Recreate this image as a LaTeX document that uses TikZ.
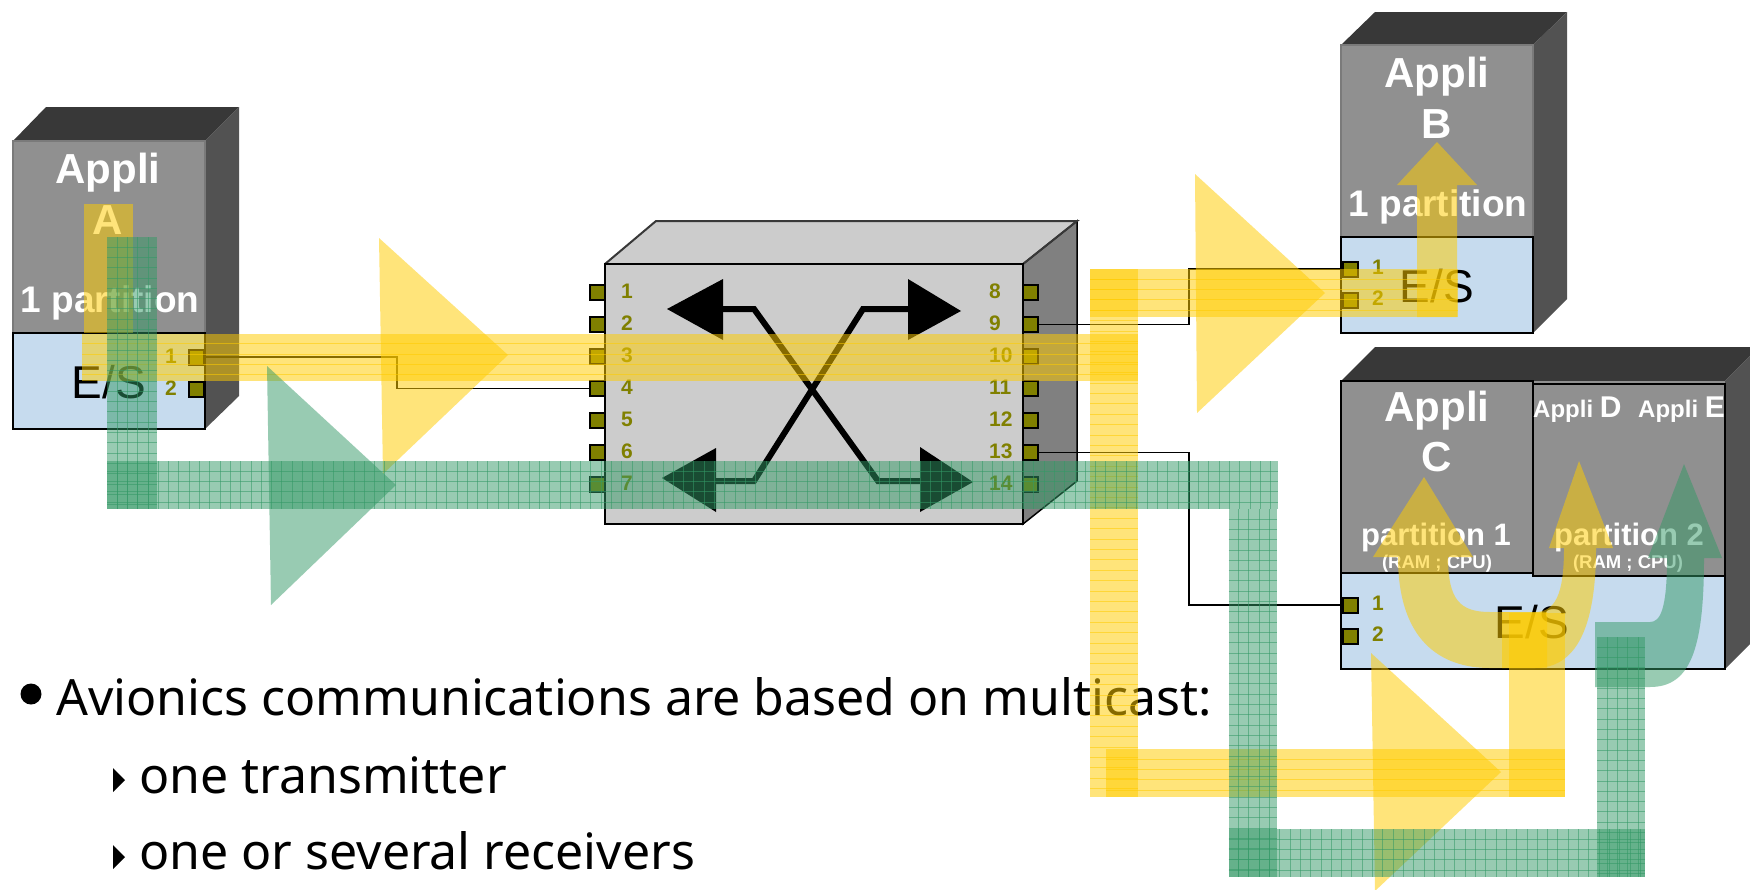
\documentclass[tikz,border=0pt]{standalone}
\usepackage{fontspec}
\setmainfont{Liberation Sans}
\newfontfamily\notefont{Noto Sans}

\definecolor{boxtop}{HTML}{383838}
\definecolor{boxside}{HTML}{525252}
\definecolor{boxfront}{HTML}{909090}
\definecolor{esblue}{HTML}{C6DBEE}
\definecolor{swfront}{HTML}{CCCCCC}
\definecolor{swside}{HTML}{808080}
\definecolor{portcol}{HTML}{808000}
\definecolor{flowy}{HTML}{FFCC00}
\definecolor{flowg}{HTML}{339966}

\tikzset{
  port/.style={draw=black,line width=2pt,fill=portcol,minimum size=15pt,inner sep=0pt},
  portnum/.style={text=portcol,font=\bfseries\fontsize{21}{21}\selectfont,inner sep=0pt},
  portleft/.style={portnum,anchor=west},
  wire/.style={draw=black,line width=1.6pt},
  appli/.style={text=white,font=\bfseries\fontsize{42}{42}\selectfont,inner sep=0pt},
  parti/.style={text=white,font=\bfseries\fontsize{37}{37}\selectfont,inner sep=0pt},
  partis/.style={text=white,font=\bfseries\fontsize{31}{31}\selectfont,inner sep=0pt},
  ramcpu/.style={text=white,font=\bfseries\fontsize{18.5}{18.5}\selectfont,inner sep=0pt},
  eslabel/.style={text=black,font=\fontsize{46}{46}\selectfont,inner sep=0pt},
  note/.style={text=black,font=\notefont\fontsize{50}{50}\selectfont,inner sep=0pt,anchor=base west},
  flowyel/.style={fill=flowy,fill opacity=0.52},
  flowgre/.style={fill=flowg,fill opacity=0.5},
  swarrow/.style={fill=black},
  swline/.style={draw=black,line width=6pt,line join=miter}
}

% x1 y1 x2 y2
\newcommand{\yellowbar}[4]{
  \fill[flowyel] (#1,#2) rectangle (#3,#4);
  \begin{scope}
    \clip (#1,#2) rectangle (#3,#4);
    \pgfmathsetmacro{\yfirst}{#2+10}
    \pgfmathsetmacro{\ysecond}{#2+20.4}
    \foreach \yy in {\yfirst,\ysecond,...,#4}
      \draw[flowy,opacity=0.55,line width=0.7pt] (#1,\yy) -- (#3,\yy);
  \end{scope}
}
\newcommand{\greenbar}[4]{
  \fill[flowgre] (#1,#2) rectangle (#3,#4);
  \begin{scope}
    \clip (#1,#2) rectangle (#3,#4);
    \pgfmathsetmacro{\yfirst}{#2+10}
    \pgfmathsetmacro{\ysecond}{#2+20.3}
    \pgfmathsetmacro{\xfirst}{#1+10}
    \pgfmathsetmacro{\xsecond}{#1+20.3}
    \foreach \yy in {\yfirst,\ysecond,...,#4}
      \draw[flowg,opacity=0.55,line width=0.7pt] (#1,\yy) -- (#3,\yy);
    \foreach \xx in {\xfirst,\xsecond,...,#3}
      \draw[flowg,opacity=0.55,line width=0.7pt] (\xx,#2) -- (\xx,#4);
  \end{scope}
}

\begin{document}
\begin{tikzpicture}[x=1pt,y=-1pt]
    \clip (0,0) rectangle (1750,889);
    \fill[white] (0,0) rectangle (1750,889);

    % computer A
    \fill[boxtop] (13,141)--(46,107)--(239,107)--(205,141)--cycle;
    \fill[boxside] (205,141)--(239,107)--(239,396)--(205,429)--cycle;
    \fill[boxfront] (13,141) rectangle (205,333);
    \draw[boxfront!85!black,line width=1.2pt] (13,333)--(13,141)--(205,141)--(205,333);
    \draw[fill=esblue,line width=2pt] (13,333) rectangle (205,429);
    \node[appli] (aname) at (108,173) {Appli};
    \node[appli] (aletter) at (108,220) {A};
    \node[parti] (apart) at (110,303) {1 partition};
    \node[eslabel] (aes) at (109,382) {E/S};
    \node[port] (ap1) at (196,357) {};
    \node[port] (ap2) at (196,389) {};
    \node[portnum] (al1) at (171,356) {1};
    \node[portnum] (al2) at (171,388) {2};

    % computer B
    \fill[boxtop] (1341,45)--(1375,12)--(1567,12)--(1533,45)--cycle;
    \fill[boxside] (1533,45)--(1567,12)--(1567,299)--(1533,333)--cycle;
    \fill[boxfront] (1341,45) rectangle (1533,237);
    \draw[boxfront!85!black,line width=1.2pt] (1341,237)--(1341,45)--(1533,45)--(1533,237);
    \draw[fill=esblue,line width=2pt] (1341,237) rectangle (1533,333);
    \node[appli] (bname) at (1437,77) {Appli};
    \node[appli] (bletter) at (1437,124) {B};
    \node[parti] (bpart) at (1438,207) {1 partition};
    \node[eslabel] (bes) at (1437,286) {E/S};
    \node[port] (bp1) at (1350,269) {};
    \node[port] (bp2) at (1350,300) {};
    \node[portnum] (bl1) at (1378,267) {1};
    \node[portnum] (bl2) at (1378,298) {2};

    % computer C
    \fill[boxtop] (1341,381)--(1375,347)--(1759,347)--(1725,381)--cycle;
    \fill[boxside] (1725,381)--(1759,347)--(1759,635)--(1725,669)--cycle;
    \fill[boxfront] (1341,381) rectangle (1725,573);
    \draw[fill=esblue,line width=2pt] (1341,573) rectangle (1725,669);
    \draw[fill=boxfront,line width=2pt] (1533,384) rectangle (1725,576);
    \draw[fill=boxfront,line width=2pt] (1341,381) rectangle (1533,573);
    \node[appli] (cname) at (1437,411) {Appli};
    \node[appli] (cletter) at (1437,457) {C};
    \node[partis] (cpart) at (1436,537) {partition 1};
    \node[ramcpu] (cram) at (1437,564) {(RAM ; CPU)};
    \node[text=white,font=\bfseries\fontsize{24}{24}\selectfont,inner sep=0pt,anchor=base west] (dname) at (1533,417) {Appli \fontsize{30}{30}\selectfont D};
    \node[text=white,font=\bfseries\fontsize{24}{24}\selectfont,inner sep=0pt,anchor=base west] (ename) at (1638,417) {Appli \fontsize{30}{30}\selectfont E};
    \node[partis] (dpart) at (1629,537) {partition 2};
    \node[ramcpu] (dram) at (1628,564) {(RAM ; CPU)};
    \node[eslabel] (ces) at (1532,622) {E/S};
    \node[port] (cp1) at (1350,605) {};
    \node[port] (cp2) at (1350,636) {};
    \node[portnum] (cl1) at (1378,603) {1};
    \node[portnum] (cl2) at (1378,634) {2};

    % switch
    \draw[swfront,fill=swfront] (605,264)--(656,221)--(1077,221)--(1023,264)--cycle;
    \draw[fill=swside,line width=1.5pt] (1023,264)--(1077,221)--(1077,481)--(1023,524)--cycle;
    \draw[boxtop,line width=2pt] (605,264)--(656,221)--(1077,221)--(1023,264);
    \draw[fill=swfront,line width=2.2pt] (605,264) rectangle (1023,524);

    \node[port] (sp1) at (597,292.5) {};
    \node[port] (sp2) at (597,324.5) {};
    \node[port] (sp3) at (597,356.5) {};
    \node[port] (sp4) at (597,388.5) {};
    \node[port] (sp5) at (597,420.5) {};
    \node[port] (sp6) at (597,452.5) {};
    \node[port] (sp7) at (597,484.5) {};
    \node[port] (sp8) at (1030,292.5) {};
    \node[port] (sp9) at (1030,324.5) {};
    \node[port] (sp10) at (1030,356.5) {};
    \node[port] (sp11) at (1030,388.5) {};
    \node[port] (sp12) at (1030,420.5) {};
    \node[port] (sp13) at (1030,452.5) {};
    \node[port] (sp14) at (1030,484.5) {};

    \node[portnum] (sl1) at (627,291) {1};
    \node[portnum] (sl2) at (627,323) {2};
    \node[portnum] (sl3) at (627,355) {3};
    \node[portnum] (sl4) at (627,387) {4};
    \node[portnum] (sl5) at (627,419) {5};
    \node[portnum] (sl6) at (627,451) {6};
    \node[portnum] (sl7) at (627,483) {7};
    \node[portleft] (sl8) at (989,291) {8};
    \node[portleft] (sl9) at (989,323) {9};
    \node[portleft] (sl10) at (989,355) {10};
    \node[portleft] (sl11) at (989,387) {11};
    \node[portleft] (sl12) at (989,419) {12};
    \node[portleft] (sl13) at (989,451) {13};
    \node[portleft] (sl14) at (989,483) {14};

    % crossed paths inside the switch
    \draw[swline] (722,309)--(754,309)--(878,481)--(920,481);
    \draw[swline] (908,309)--(863,309)--(754,481)--(716,481);
    \fill[swarrow] (667,309)--(723,279)--(723,340)--cycle;
    \fill[swarrow] (961,311)--(908,279)--(908,340)--cycle;
    \fill[swarrow] (662,478)--(716,448)--(716,512)--cycle;
    \fill[swarrow] (973,482)--(920,447)--(920,512)--cycle;

    % wires
    \coordinate (benda) at (397,370);
    \coordinate (bendb) at (1189,300);
    \coordinate (bendc) at (1189,520);
    \draw[wire] (ap1.east) -| (benda) |- (sp4.west);
    \draw[wire] (sp9.east) -| (bendb) |- (bp1.west);
    \draw[wire] (sp13.east) -| (bendc) |- (cp1.west);

    % text
    \fill[black] (31,694) circle [radius=10.5];
    \node[note] (line1) at (56,715) {Avionics communications are based on multicast:};
    \fill[black] (113,768)--(125,780)--(113,792)--cycle;
    \node[note] (line2) at (139,793) {one transmitter};
    \fill[black] (113,845)--(125,857)--(113,869)--cycle;
    \node[note] (line3) at (139,869) {one or several receivers};

    % yellow flow
    \fill[flowyel] (84,204) rectangle (133,333);
    \yellowbar{82}{333.5}{1138}{381}
    \yellowbar{1090}{269}{1458}{317}
    \yellowbar{1090}{269}{1138}{797}
    \yellowbar{1106}{749}{1565}{797}
    \fill[flowyel] (379,238)--(508,355)--(383,474)--cycle;
    \fill[flowyel] (1195,174)--(1325,293)--(1197,413)--cycle;
    \fill[flowyel] (1371,653)--(1501,772)--(1375,891)--cycle;
    \fill[flowyel] (1509,613) rectangle (1565,797);
    \fill[flowyel] (1417,317)--(1417,185)--(1397,185)--(1437,142)--(1477,185)--(1457,185)--(1457,317)--cycle;
    \fill[flowyel] (1547,612)--(1490,612) .. controls (1460,612) and (1448,600) .. (1448,557)
      --(1473,557)--(1424,477)--(1373,557)--(1398,557) .. controls (1398,640) and (1440,668) .. (1490,668)
      --(1547,668)--cycle;
    \fill[flowyel] (1502,612)--(1535,612) .. controls (1555,612) and (1564,595) .. (1564,548)
      --(1549,548)--(1579,461)--(1613,548)--(1596,548) .. controls (1596,630) and (1575,668) .. (1535,668)
      --(1502,668)--cycle;

    % green flow
    \greenbar{107}{237}{157}{509}
    \greenbar{107}{461}{1278}{509}
    \greenbar{1228.5}{509}{1277}{877}
    \greenbar{1228.5}{829}{1645}{877}
    \greenbar{1597}{637}{1645}{877}
    \fill[flowgre] (267,366)--(396,485)--(271,605)--cycle;
    \fill[flowgre] (1595,622)--(1650,622) .. controls (1660,622) and (1667,610) .. (1667,558)
      --(1648,558)--(1684,464)--(1722,558)--(1704,558) .. controls (1704,650) and (1690,687) .. (1650,687)
      --(1595,687)--cycle;
\end{tikzpicture}
\end{document}
